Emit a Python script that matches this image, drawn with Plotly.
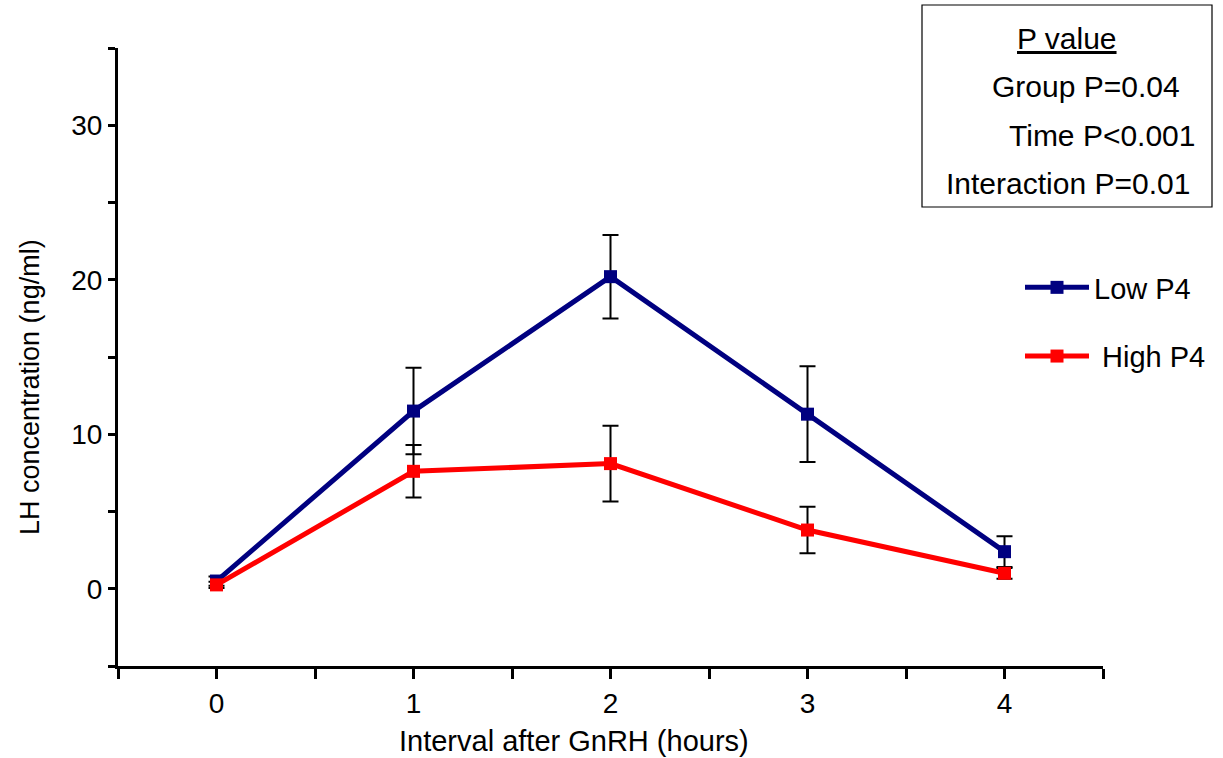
import plotly.graph_objects as go

hours = [0, 1, 2, 3, 4]
low_p4 = [0.5, 11.5, 20.2, 11.3, 2.4]
low_p4_err = [0.3, 2.8, 2.7, 3.1, 1.0]
high_p4 = [0.25, 7.6, 8.1, 3.8, 1.0]
high_p4_err = [0.2, 1.7, 2.45, 1.5, 0.35]

y_tickvals = [-5, 0, 5, 10, 15, 20, 25, 30, 35]
y_ticktext = ["", "0", "", "10", "", "20", "", "30", ""]
x_tickvals = [-0.5, 0, 0.5, 1, 1.5, 2, 2.5, 3, 3.5, 4, 4.5]
x_ticktext = ["", "0", "", "1", "", "2", "", "3", "", "4", ""]

FONT = "Arial, Liberation Sans, sans-serif"

W, H = 1223, 758
L, R, T, B = 118, 120, 48, 92
pw, ph = W - L - R, H - T - B


def px(x):
    return (x - L) / pw


def py(y):
    return (H - B - y) / ph


fig = go.Figure()
fig.add_trace(go.Scatter(
    x=hours, y=low_p4, name="Low P4", mode="lines+markers",
    line=dict(color="#000080", width=5),
    marker=dict(symbol="square", size=13, color="#000080"),
    error_y=dict(type="data", array=low_p4_err, color="black", thickness=2, width=8),
    legendgroup="a",
))
fig.add_trace(go.Scatter(
    x=hours, y=high_p4, name=" High P4", mode="lines+markers",
    line=dict(color="#ff0000", width=5),
    marker=dict(symbol="square", size=13, color="#ff0000"),
    error_y=dict(type="data", array=high_p4_err, color="black", thickness=2, width=8),
    legendgroup="b",
))

fig.update_layout(
    width=W, height=H,
    margin=dict(l=L, r=R, t=T, b=B, autoexpand=False),
    paper_bgcolor="white", plot_bgcolor="white",
    font=dict(family=FONT, size=28, color="black"),
    showlegend=True,
    legend=dict(
        x=px(1020), y=py(262), xanchor="left", yanchor="top",
        font=dict(family=FONT, size=29, color="black"),
        tracegroupgap=28, bgcolor="rgba(0,0,0,0)", itemwidth=64,
    ),
    xaxis=dict(
        range=[-0.5, 4.5], tickvals=x_tickvals, ticktext=x_ticktext,
        showline=True, linecolor="black", linewidth=3,
        ticks="outside", ticklen=10, tickwidth=3, tickcolor="black",
        showgrid=False, zeroline=False,
        tickfont=dict(family=FONT, size=28),
    ),
    yaxis=dict(
        range=[-5, 35], tickvals=y_tickvals, ticktext=y_ticktext,
        showline=True, linecolor="black", linewidth=3,
        ticks="outside", ticklen=7, tickwidth=3, tickcolor="black",
        showgrid=False, zeroline=False,
        tickfont=dict(family=FONT, size=28),
    ),
)

fig.add_shape(type="rect", xref="paper", yref="paper",
              x0=px(922), x1=px(1212), y0=py(207), y1=py(5),
              line=dict(color="black", width=1.2), fillcolor="rgba(0,0,0,0)")

ann = [
    ("<u>P value</u>", 1067, 38),
    ("Group P=0.04", 1085.5, 86),
    ("Time P<0.001", 1102, 135),
    ("Interaction P=0.01", 1068, 183),
]
for txt, xx, yy in ann:
    fig.add_annotation(text=txt, xref="paper", yref="paper", x=px(xx), y=py(yy),
                       xanchor="center", yanchor="middle", showarrow=False,
                       font=dict(family=FONT, size=30, color="black"))

fig.add_annotation(text="Interval after GnRH (hours)", xref="paper", yref="paper",
                   x=px(573.5), y=py(741), xanchor="center", yanchor="middle",
                   showarrow=False, font=dict(family=FONT, size=29, color="black"))
fig.add_annotation(text="LH concentration (ng/ml)", xref="paper", yref="paper",
                   x=px(30), y=py(387), xanchor="center", yanchor="middle",
                   textangle=-90, showarrow=False,
                   font=dict(family=FONT, size=27, color="black"))

fig.write_html("out.html", config={"displayModeBar": False},
               post_script="document.body.style.margin='0';document.body.style.padding='0';")
